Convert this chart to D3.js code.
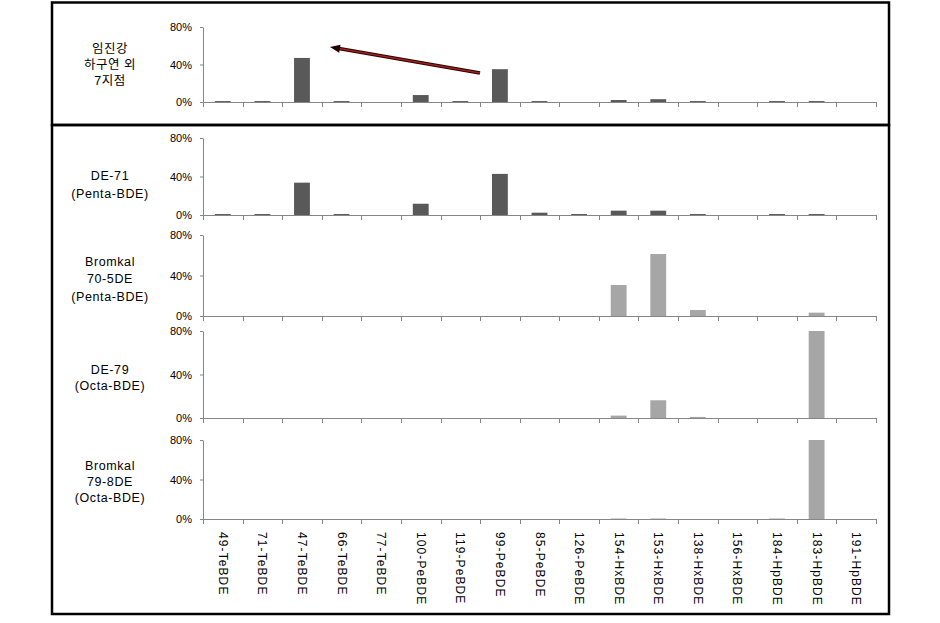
<!DOCTYPE html>
<html><head><meta charset="utf-8">
<script src="https://cdn.jsdelivr.net/npm/d3@7"></script>
<style>body{margin:0;background:#fff}svg{display:block}</style>
</head><body>
<script>
const categories = ["49-TeBDE","71-TeBDE","47-TeBDE","66-TeBDE","77-TeBDE","100-PeBDE","119-PeBDE","99-PeBDE","85-PeBDE","126-PeBDE","154-HxBDE","153-HxBDE","138-HxBDE","156-HxBDE","184-HpBDE","183-HpBDE","191-HpBDE"];
const yTicks = [0, 0.4, 0.8];
const imjin   = [0.01,0.01,0.47,0.01,0,0.074,0.01,0.35,0.01,0,0.021,0.03,0.01,0,0.01,0.01,0];
const de71    = [0.01,0.01,0.336,0.01,0,0.117,0,0.427,0.024,0.01,0.045,0.045,0.01,0,0.01,0.01,0];
const bk705   = [0,0,0,0,0,0,0,0,0,0,0.306,0.612,0.059,0,0,0.033,0];
const de79    = [0,0,0,0,0,0,0,0,0,0,0.022,0.163,0.01,0,0,0.80,0];
const bk798   = [0,0,0,0,0,0,0,0,0,0,0.005,0.005,0,0,0.005,0.80,0];
const panelLabels = [["임진강","하구연 외","7지점"],["DE-71","(Penta-BDE)"],["Bromkal","70-5DE","(Penta-BDE)"],["DE-79","(Octa-BDE)"],["Bromkal","79-8DE","(Octa-BDE)"]];
const panelValues = [imjin, de71, bk705, de79, bk798];

const layout = [
  {top:27, bot:102, color:"#595959", ly:[49,65,81]},
  {top:138, bot:215, color:"#595959", ly:[176,194]},
  {top:235, bot:316, color:"#a6a6a6", ly:[262,279,297]},
  {top:331, bot:418, color:"#a6a6a6", ly:[370,386]},
  {top:440, bot:519, color:"#a6a6a6", ly:[466,482,498]}
];

const W = 940, H = 623;
const svg = d3.select("body").append("svg").attr("width", W).attr("height", H);
const font = "'Liberation Sans', Arial, 'Noto Sans CJK KR', sans-serif";
const axisCol = "#868686";

const x = d3.scaleBand().domain(categories).range([203, 876]).paddingInner(0.6).paddingOuter(0.3);

panelValues.forEach((vals, pi) => {
  const L = layout[pi];
  const y = d3.scaleLinear().domain([0, 0.8]).range([L.bot, L.top]).clamp(true);
  const g = svg.append("g");
  const ya = g.append("g").attr("transform", "translate(203,0)")
    .call(d3.axisLeft(y).tickValues(yTicks).tickFormat(d3.format(".0%")).tickSize(3).tickSizeOuter(0).tickPadding(8));
  ya.select(".domain").attr("stroke", axisCol);
  ya.selectAll(".tick line").attr("stroke", axisCol);
  ya.selectAll(".tick text").attr("font-family", font).attr("font-size", 11).attr("fill", "#000");
  g.selectAll("rect.bar").data(vals).join("rect")
    .attr("x", (d, i) => x(categories[i]))
    .attr("width", x.bandwidth())
    .attr("y", d => y(d))
    .attr("height", d => L.bot - y(d))
    .attr("fill", L.color);
  const r = x.range();
  g.append("line").attr("x1", r[0]).attr("x2", r[1]).attr("y1", L.bot + 0.5).attr("y2", L.bot + 0.5).attr("stroke", axisCol);
  const bounds = d3.range(categories.length + 1).map(i => r[0] + i * x.step());
  g.selectAll("line.tk").data(bounds).join("line")
    .attr("x1", d => Math.round(d) + 0.5).attr("x2", d => Math.round(d) + 0.5)
    .attr("y1", L.bot).attr("y2", L.bot + 5).attr("stroke", axisCol);
  g.selectAll("text.pl").data(panelLabels[pi]).join("text")
    .attr("x", 110).attr("y", (d, i) => L.ly[i])
    .attr("text-anchor", "middle").attr("dominant-baseline", "central")
    .attr("font-family", font).attr("font-size", 12.5).attr("letter-spacing", pi === 0 ? 0.5 : 0.6).attr("fill", "#000")
    .text(d => d);
});

svg.selectAll("text.xl").data(categories).join("text")
  .attr("transform", d => `translate(${x(d) + x.bandwidth() / 2},532) rotate(90)`)
  .attr("text-anchor", "start").attr("dominant-baseline", "central")
  .attr("font-family", font).attr("font-size", 12).attr("letter-spacing", 1.1).attr("fill", "#000")
  .text(d => d);

// arrow
const ax1 = 480, ay1 = 73, ax2 = 330, ay2 = 47;
svg.append("line").attr("x1", ax1).attr("y1", ay1).attr("x2", ax2 + 6).attr("y2", ay2 + 1)
  .attr("stroke", "#2a0000").attr("stroke-width", 3.5);
svg.append("line").attr("x1", ax1).attr("y1", ay1).attr("x2", ax2 + 6).attr("y2", ay2 + 1)
  .attr("stroke", "#a02020").attr("stroke-width", 1.5);
const ang = Math.atan2(ay2 - ay1, ax2 - ax1);
const hl = 10, hw = 4;
const bx = ax2 - Math.cos(ang) * hl, by = ay2 - Math.sin(ang) * hl;
const px = -Math.sin(ang) * hw, py = Math.cos(ang) * hw;
svg.append("path")
  .attr("d", `M${ax2},${ay2} L${bx + px},${by + py} L${bx - px},${by - py} Z`)
  .attr("fill", "#200000");

svg.append("rect").attr("x", 52).attr("y", 2.5).attr("width", 837).attr("height", 122.5)
  .attr("fill", "none").attr("stroke", "#000").attr("stroke-width", 2.5);
svg.append("rect").attr("x", 52).attr("y", 125).attr("width", 837).attr("height", 489)
  .attr("fill", "none").attr("stroke", "#000").attr("stroke-width", 2.5);
</script>
</body></html>
